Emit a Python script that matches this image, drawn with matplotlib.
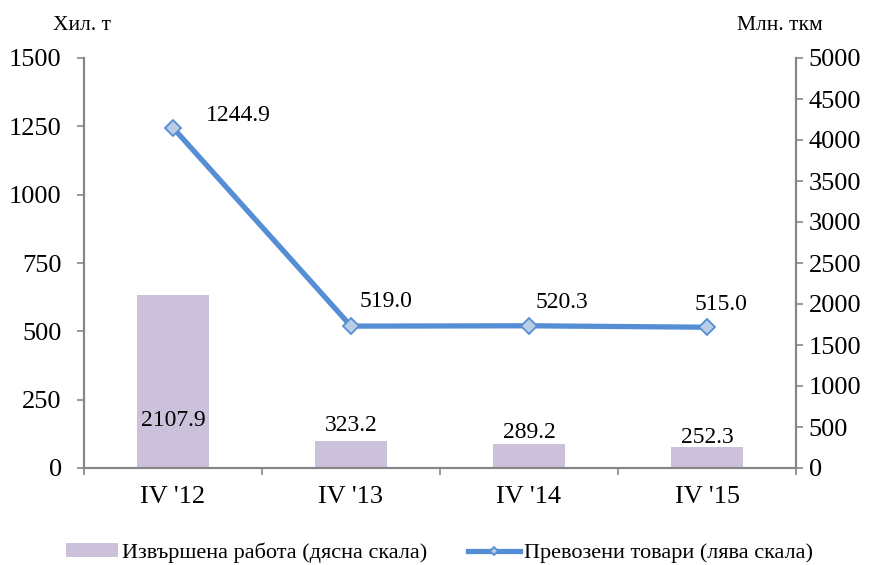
import matplotlib.pyplot as plt

plt.rcParams['font.family'] = ['Liberation Serif', 'DejaVu Serif']

quarters = ["IV '12", "IV '13", "IV '14", "IV '15"]
work = [2107.9, 323.2, 289.2, 252.3]        # Млн. ткм, right scale
goods = [1244.9, 519.0, 520.3, 515.0]       # Хил. т, left scale

bar_label_off = [-125, 16, 12, 10]          # px from bar top to label centre
line_label_off = [(65, 12), (35, 25), (33, 23), (14, 23)]

fig = plt.figure(figsize=(8.74, 5.65), dpi=100)
ax = fig.add_axes([84 / 874, 1 - 468 / 565, 712 / 874, 410 / 565])
ax2 = ax.twinx()

x = range(len(quarters))
gray = '#868686'

# bars on the right axis
ax2.bar(x, work, width=0.405, color='#CCC1DA', zorder=1,
        label='Извършена работа (дясна скала)')
ax2.set_ylim(0, 5000)
ax2.set_yticks(range(0, 5001, 500))
for xi, v, off in zip(x, work, bar_label_off):
    ax2.annotate(f'{v:.1f}', (xi, v), xytext=(0, off * 0.72), textcoords='offset points',
                 ha='center', va='center', fontsize=17)

# line on the left axis (drawn above bars)
ax.set_zorder(ax2.get_zorder() + 1)
ax.patch.set_visible(False)
ax.plot(x, goods, color='#558ED5', lw=3.8, marker='D', ms=8.5,
        mfc='#B9CDE5', mec='#558ED5', mew=1.3, zorder=3,
        label='Превозени товари (лява скала)')
ax.set_ylim(0, 1500)
ax.set_yticks(range(0, 1501, 250))
for xi, v, (dx, dy) in zip(x, goods, line_label_off):
    ax.annotate(f'{v:.1f}', (xi, v), xytext=(dx * 0.72, dy * 0.72), textcoords='offset points',
                ha='center', va='center', fontsize=17)

ax.set_xlim(-0.5, 3.5)
ax.set_xticks(list(x))
ax.set_xticklabels(quarters, fontsize=19)
ax.set_xticks([-0.5, 0.5, 1.5, 2.5, 3.5], minor=True)
ax.tick_params(axis='x', which='major', length=0, pad=13)
ax.tick_params(axis='x', which='minor', length=5, color=gray, width=1.2)
ax.tick_params(axis='y', labelsize=19, length=5, color=gray, width=1.2, pad=11)
ax2.tick_params(axis='y', labelsize=19, length=5, color=gray, width=1.2, pad=4)

for a in (ax, ax2):
    a.spines['top'].set_visible(False)
    for s in ('left', 'right', 'bottom'):
        a.spines[s].set_color(gray)
        a.spines[s].set_linewidth(1.5)

fig.text(82 / 874, 1 - 25 / 565, 'Хил. т', ha='center', va='center', fontsize=15.5)
fig.text(780 / 874, 1 - 25 / 565, 'Млн. ткм', ha='center', va='center', fontsize=15.5)

h1, l1 = ax2.get_legend_handles_labels()
h2, l2 = ax.get_legend_handles_labels()
fig.legend(h1 + h2, l1 + l2, loc='center', bbox_to_anchor=(0.503, 1 - 553 / 565),
           ncol=2, frameon=False, fontsize=16, handlelength=2.35, handletextpad=0.2,
           columnspacing=1.8, handleheight=0.6, markerscale=0.45)

fig.savefig('out.png', dpi=100)
